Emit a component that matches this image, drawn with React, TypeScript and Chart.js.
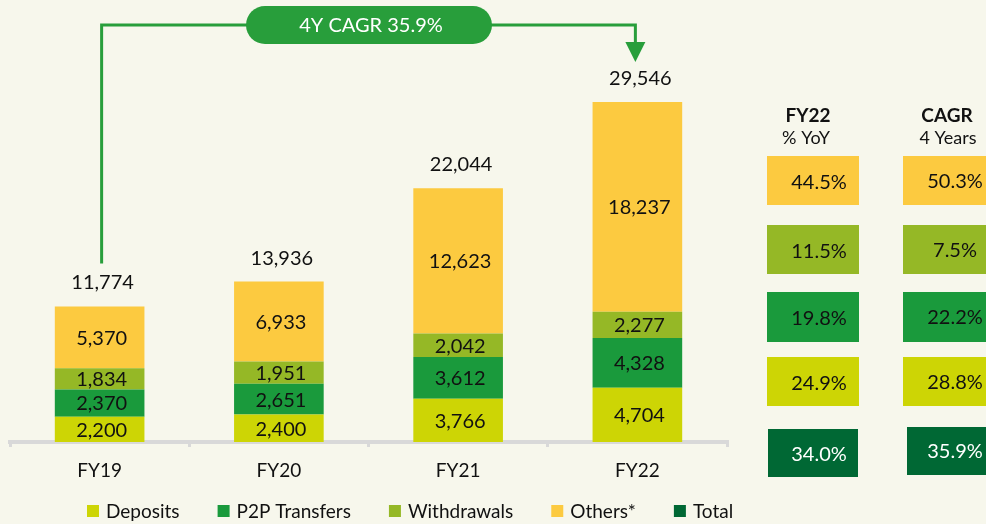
import React, { useEffect, useRef } from 'react';
import { Chart, registerables } from 'chart.js';
Chart.register(...registerables);

// ---- data ----
const categories = ['FY19', 'FY20', 'FY21', 'FY22'];
const deposits = [2200, 2400, 3766, 4704];
const p2pTransfers = [2370, 2651, 3612, 4328];
const withdrawals = [1834, 1951, 2042, 2277];
const others = [5370, 6933, 12623, 18237];
const totals = [11774, 13936, 22044, 29546];

const tableRows = ['Others*', 'Withdrawals', 'P2P Transfers', 'Deposits', 'Total'];
const yoyFY22 = [44.5, 11.5, 19.8, 24.9, 34.0];
const cagr4Years = [50.3, 7.5, 22.2, 28.8, 35.9];
const legendItems = ['Deposits', 'P2P Transfers', 'Withdrawals', 'Others*', 'Total'];

const COLORS: Record<string, string> = {
  Deposits: '#CDD505',
  'P2P Transfers': '#1A9A3C',
  Withdrawals: '#95B826',
  'Others*': '#FCCA40',
  Total: '#006834',
};
const ACCENT = '#289E3B';
const BG = '#F7F7EC';
const FONT = 'Lato, "Open Sans", sans-serif';
const TEXT = '#111111';

const fmt = (n: number) => n.toLocaleString('en-US');
const pct = (n: number) => n.toFixed(1) + '%';

// table layout
const col1 = { x: 767, w: 92, text: 819 };
const col2 = { x: 903, w: 92, text: 955 };
const rowBoxes = [
  [156, 49],
  [225, 49],
  [292, 50],
  [357, 49],
];

const overlay = {
  id: 'overlay',
  afterDatasetsDraw(chart: any) {
    const ctx = chart.ctx as CanvasRenderingContext2D;
    ctx.save();

    // segment labels
    ctx.font = `20px ${FONT}`;
    ctx.fillStyle = TEXT;
    ctx.textAlign = 'center';
    ctx.textBaseline = 'middle';
    chart.data.datasets.forEach((ds: any, i: number) => {
      const meta = chart.getDatasetMeta(i);
      meta.data.forEach((el: any, j: number) => {
        ctx.fillText(fmt(ds.data[j]), el.x + 2, (el.y + el.base) / 2 + 1);
      });
    });

    // totals
    const topMeta = chart.getDatasetMeta(chart.data.datasets.length - 1);
    ctx.textBaseline = 'alphabetic';
    topMeta.data.forEach((el: any, j: number) => {
      ctx.fillText(fmt(totals[j]), el.x + 3, el.y - 17);
    });

    // CAGR arrow annotation
    const first = topMeta.data[0];
    const last = topMeta.data[topMeta.data.length - 1];
    const lx = first.x + 2;
    const rx = last.x - 2;
    const lineY = 25;
    const pillL = 246, pillR = 492, pillT = 6, pillH = 38;
    const tipY = last.y - 40;
    ctx.strokeStyle = ACCENT;
    ctx.lineWidth = 3;
    ctx.beginPath();
    ctx.moveTo(lx, first.y - 43);
    ctx.lineTo(lx, lineY);
    ctx.lineTo(pillL + 5, lineY);
    ctx.stroke();
    ctx.beginPath();
    ctx.moveTo(pillR - 5, lineY);
    ctx.lineTo(rx, lineY);
    ctx.lineTo(rx, tipY - 18);
    ctx.stroke();
    ctx.fillStyle = ACCENT;
    ctx.beginPath();
    ctx.moveTo(rx - 10, tipY - 20);
    ctx.lineTo(rx + 10, tipY - 20);
    ctx.lineTo(rx, tipY);
    ctx.closePath();
    ctx.fill();
    ctx.beginPath();
    (ctx as any).roundRect(pillL, pillT, pillR - pillL, pillH, pillH / 2);
    ctx.fill();
    ctx.fillStyle = '#FFFFFF';
    ctx.font = `20px ${FONT}`;
    ctx.textBaseline = 'middle';
    ctx.fillText(`4Y CAGR ${pct(cagr4Years[4])}`, (pillL + pillR) / 2 + 2, pillT + pillH / 2 + 1);

    // table headers
    ctx.fillStyle = TEXT;
    ctx.textBaseline = 'alphabetic';
    ctx.font = `bold 19px ${FONT}`;
    ctx.fillText('FY22', 808, 122);
    ctx.fillText('CAGR', 947, 122);
    ctx.font = `18px ${FONT}`;
    ctx.fillText('% YoY', 806, 144);
    ctx.fillText('4 Years', 948, 144);

    // table boxes
    tableRows.forEach((name, i) => {
      let y1: number, h1: number, y2: number, h2: number;
      let c1x = col1.x, c1w = col1.w, c2x = col2.x, c2w = col2.w;
      if (i < 4) {
        [y1, h1] = rowBoxes[i];
        [y2, h2] = rowBoxes[i];
      } else {
        y1 = 429; h1 = 48; y2 = 427; h2 = 48;
        c1x = 768; c1w = 90; c2x = 907; c2w = 88;
      }
      ctx.fillStyle = COLORS[name];
      ctx.fillRect(c1x, y1, c1w, h1);
      ctx.fillRect(c2x, y2, c2w, h2);
      ctx.fillStyle = name === 'Total' ? '#FFFFFF' : TEXT;
      ctx.font = `20px ${FONT}`;
      ctx.textBaseline = 'middle';
      ctx.fillText(pct(yoyFY22[i]), col1.text, y1 + h1 / 2 + 2);
      ctx.fillText(pct(cagr4Years[i]), col2.text, y2 + h2 / 2 + 1);
    });

    // legend
    ctx.font = `19px ${FONT}`;
    ctx.textAlign = 'left';
    ctx.textBaseline = 'middle';
    let x = 87;
    const ly = 511;
    legendItems.forEach((name) => {
      ctx.fillStyle = COLORS[name];
      ctx.fillRect(x, ly - 6, 12, 12);
      x += 19;
      ctx.fillStyle = TEXT;
      ctx.fillText(name, x, ly + 1);
      x += ctx.measureText(name).width + 38;
    });

    ctx.restore();
  },
};

export default function App() {
  const ref = useRef<HTMLCanvasElement>(null);
  useEffect(() => {
    if (!ref.current) return;
    const mk = (label: string, data: number[]) => ({
      label,
      data,
      backgroundColor: COLORS[label],
      borderWidth: 0,
      barPercentage: 0.5,
      categoryPercentage: 1.0,
    });
    const chart = new Chart(ref.current, {
      type: 'bar',
      data: {
        labels: categories,
        datasets: [
          mk('Deposits', deposits),
          mk('P2P Transfers', p2pTransfers),
          mk('Withdrawals', withdrawals),
          mk('Others*', others),
        ],
      },
      options: {
        responsive: false,
        animation: false,
        layout: { padding: { left: 10, right: 259, top: 0, bottom: 0 } },
        plugins: { legend: { display: false }, tooltip: { enabled: false } },
        scales: {
          x: {
            stacked: true,
            border: { color: '#D9D9D9', width: 4 },
            grid: {
              offset: true,
              drawOnChartArea: false,
              tickLength: 5,
              color: '#D9D9D9',
              lineWidth: 3,
            },
            ticks: { font: { family: FONT, size: 19 }, color: TEXT, padding: 12 },
            afterFit: (s: any) => {
              s.height = 82;
            },
          },
          y: { stacked: true, display: false, min: 0, max: 38400 },
        },
      },
      plugins: [overlay],
    } as any);
    return () => chart.destroy();
  }, []);
  return (
    <div style={{ position: 'fixed', left: 0, top: 0, width: 986, height: 524, background: BG }}>
      <canvas ref={ref} width={986} height={524} style={{ display: 'block' }} />
    </div>
  );
}
